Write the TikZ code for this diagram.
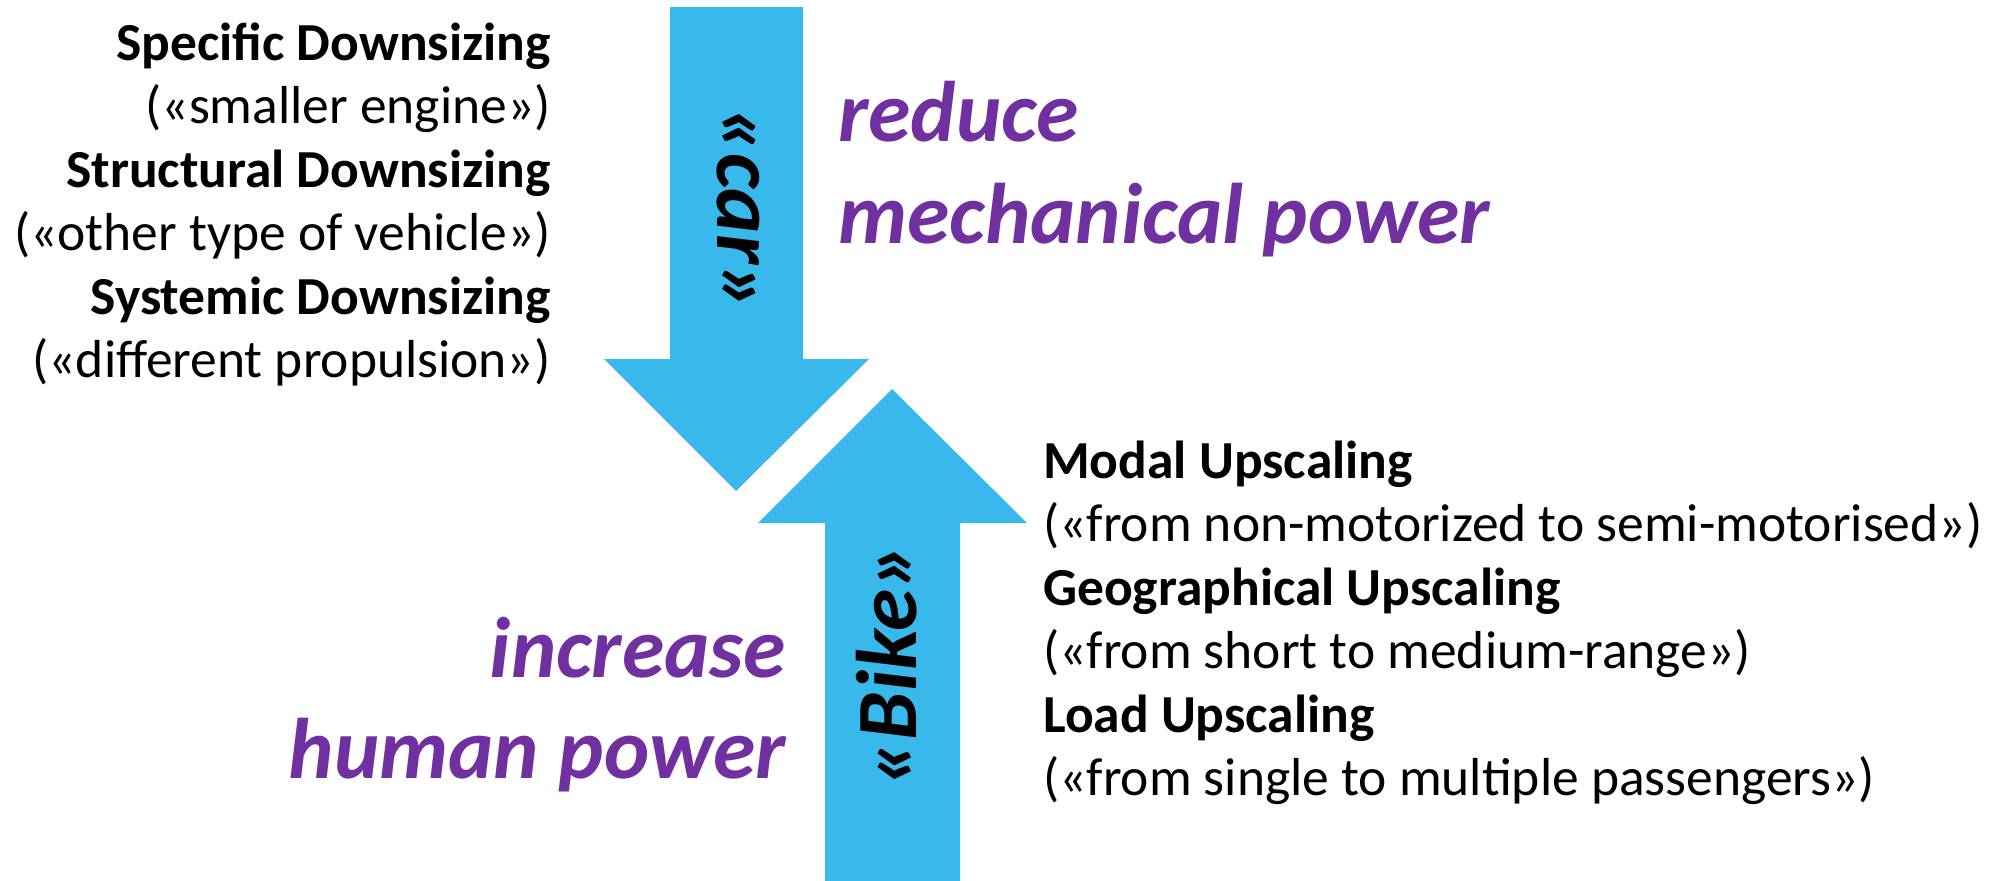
\documentclass[tikz,border=0pt]{standalone}
\usepackage{fontspec}
\setmainfont{Carlito}
\definecolor{arrowblue}{RGB}{57,184,235}
\definecolor{vpurple}{RGB}{112,48,160}
\begin{document}
\begin{tikzpicture}[x=1pt,y=-1pt,
  plain/.style={inner sep=0pt, font=\fontsize{53.5}{64}\selectfont},
  head/.style={inner sep=0pt, font=\fontsize{53.5}{64}\selectfont\bfseries},
  big/.style={inner sep=0pt, text=vpurple, font=\fontsize{86}{103}\selectfont\bfseries\itshape},
  arrowlbl/.style={inner sep=0pt, font=\fontsize{86}{103}\selectfont\bfseries\itshape},
  arrowshape/.style={fill=arrowblue, draw=none}]
\useasboundingbox (0,0) rectangle (1990,881);

% down arrow ("car")
\fill[arrowshape] (670,7) -- (803,7) -- (803,359) -- (869,359) -- (736,491) -- (604,359) -- (670,359) -- cycle;
% up arrow ("Bike")
\fill[arrowshape] (825,881) -- (960,881) -- (960,523) -- (1027,523) -- (892,389) -- (758,523) -- (825,523) -- cycle;

\node[arrowlbl, rotate=-90] (car) at (738,209) {«car»};
\node[arrowlbl, rotate=90] (bike) at (887,665) {«Bike»};

% left list
\node[head, anchor=base east] (l1) at (551,60) {Specific Downsizing};
\node[plain, anchor=base east] (l2) at (551,123.5) {(«smaller engine»)};
\node[head, anchor=base east] (l3) at (551,187) {Structural Downsizing};
\node[plain, anchor=base east] (l4) at (551,250.5) {(«other type of vehicle»)};
\node[head, anchor=base east] (l5) at (551,314) {Systemic Downsizing};
\node[plain, anchor=base east] (l6) at (551,377.5) {(«different propulsion»)};

% right list
\node[head, anchor=base west] (r1) at (1043,478) {Modal Upscaling};
\node[plain, anchor=base west] (r2) at (1043,541.5) {(«from non-motorized to semi-motorised»)};
\node[head, anchor=base west] (r3) at (1043,605) {Geographical Upscaling};
\node[plain, anchor=base west] (r4) at (1043,668.5) {(«from short to medium-range»)};
\node[head, anchor=base west] (r5) at (1043,732) {Load Upscaling};
\node[plain, anchor=base west] (r6) at (1043,795.5) {(«from single to multiple passengers»)};

% purple captions
\node[big, anchor=base west] (red1) at (838,141) {reduce};
\node[big, anchor=base west] (red2) at (838,243) {mechanical power};
\node[big, anchor=base east] (inc1) at (786,677) {increase};
\node[big, anchor=base east] (inc2) at (786,778) {human power};
\end{tikzpicture}
\end{document}
